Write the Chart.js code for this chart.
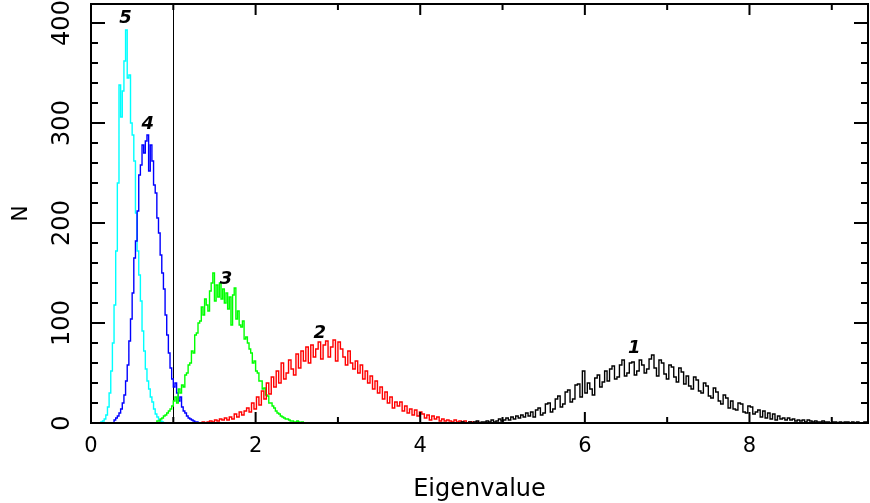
<!DOCTYPE html>
<html>
<head>
<meta charset="utf-8">
<script src="https://cdn.jsdelivr.net/npm/chart.js@4.4.1/dist/chart.umd.min.js"></script>
<style>
html,body{margin:0;padding:0;background:#fff}
</style>
</head>
<body>
<canvas id="myChart" width="870" height="503"></canvas>
<script>
// eigenvalue histograms, one per eigenvalue index (1 = largest)
const seriesNames = ['1', '2', '3', '4', '5'];
const seriesColors = ['#000000', '#ff0000', '#00ff00', '#0000ff', '#00ffff'];
const binStart = [4.50, 1.35, 0.80, 0.28, 0.12];
const binWidth = [0.03, 0.03, 0.02, 0.02, 0.02];

const counts1 = [
  0,1,0,0,1,0,1,2,0,1,
  1,2,1,3,1,2,4,2,3,5,
  3,6,4,7,5,8,6,10,7,11,
  6,13,15,8,10,19,20,11,14,24,
  27,16,19,31,33,21,24,38,39,26,
  52,30,40,34,28,45,48,36,41,52,
  42,54,57,44,46,58,63,47,50,60,
  61,48,52,63,58,50,54,64,68,55,
  47,63,60,49,44,58,56,46,41,55,
  51,39,47,37,34,46,43,32,30,40,
  37,27,25,35,31,22,19,28,25,15,
  22,14,13,20,19,11,10,17,16,9,
  11,13,6,12,5,10,4,9,3,7,
  4,5,3,5,3,4,2,3,2,3,
  1,3,2,1,2,1,1,2,1,1,
  0,1,1,0,1,0,1,1,0,1,
  0,1,0,0,1,0
];
const counts2 = [
  0,1,0,1,2,1,3,2,4,3,
  5,3,6,4,9,6,11,8,12,15,
  11,20,14,26,18,32,24,40,29,46,
  36,52,40,60,44,50,63,54,48,69,
  55,72,62,76,60,78,66,74,81,64,
  78,82,66,76,83,62,81,74,66,58,
  72,60,54,62,50,58,44,52,40,47,
  34,42,30,36,24,31,20,26,15,21,
  17,21,12,17,10,14,8,13,7,11,
  9,5,8,3,7,4,6,2,4,2,
  3,2,1,3,1,2,1,2,0,1,
  1,0,1,0,0
];
const counts3 = [
  1,2,2,4,5,7,8,10,12,14,
  17,22,26,20,34,30,38,36,48,50,
  58,60,72,70,88,90,100,102,116,108,
  124,118,112,132,140,150,122,138,126,140,
  124,134,120,130,114,126,98,128,135,104,
  112,98,96,102,84,86,80,74,70,60,
  62,52,50,42,42,34,35,28,27,20,
  20,17,15,12,10,9,7,6,5,4,
  4,3,2,2,1,1,2,1,0,1,
  0
];
const counts4 = [
  1,3,5,7,10,14,20,28,42,58,
  82,104,130,165,182,212,248,258,278,270,
  282,288,252,278,262,238,230,205,190,168,
  150,134,108,88,70,55,44,36,40,30,
  22,26,16,12,10,7,5,4,3,2,
  1,1,0
];
const counts5 = [
  0,1,2,4,8,16,30,52,80,118,
  172,240,338,306,332,362,393,345,348,300,
  288,262,210,172,148,122,92,72,54,42,
  34,26,21,14,9,6,3,2,1,0
];
const allCounts = [counts1, counts2, counts3, counts4, counts5];

// curve labels (data coordinates)
const labelX = [6.60, 2.78, 1.64, 0.69, 0.42];
const labelY = [75, 90, 144, 299, 405];

const xTicks = [0, 2, 4, 6, 8];
const yTicks = [0, 100, 200, 300, 400];
const cutLine = 1;

const datasets = allCounts.map((c, k) => ({
  label: seriesNames[k],
  data: c.map((v, i) => ({x: binStart[k] + i * binWidth[k], y: v})),
  borderColor: seriesColors[k],
  borderWidth: 1.4,
  pointRadius: 0,
  fill: false,
  stepped: 'after',
  tension: 0
}));

const framePlugin = {
  id: 'frame',
  beforeDatasetsDraw(chart) {
    const ctx = chart.ctx, a = chart.chartArea, xs = chart.scales.x;
    const px = Math.round(xs.getPixelForValue(cutLine)) + 0.5;
    ctx.save();
    ctx.strokeStyle = '#000';
    ctx.lineWidth = 1;
    ctx.beginPath();
    ctx.moveTo(px, a.top);
    ctx.lineTo(px, a.bottom);
    ctx.stroke();
    ctx.restore();
  },
  afterDraw(chart) {
    const ctx = chart.ctx, a = chart.chartArea;
    const xs = chart.scales.x, ys = chart.scales.y;
    ctx.save();
    ctx.strokeStyle = '#000';
    ctx.lineWidth = 2;
    ctx.strokeRect(a.left, a.top, a.right - a.left, a.bottom - a.top);
    ctx.beginPath();
    for (let v = 1; v <= 9; v++) {
      const p = xs.getPixelForValue(v);
      const len = v % 2 === 0 ? 11 : 6;
      ctx.moveTo(p, a.bottom); ctx.lineTo(p, a.bottom - len);
      ctx.moveTo(p, a.top); ctx.lineTo(p, a.top + len);
    }
    for (let n = 20; n <= 400; n += 20) {
      const p = ys.getPixelForValue(n);
      const len = n % 100 === 0 ? 14 : 7;
      ctx.moveTo(a.left, p); ctx.lineTo(a.left + len, p);
      ctx.moveTo(a.right, p); ctx.lineTo(a.right - len, p);
    }
    ctx.stroke();
    ctx.fillStyle = '#000';
    ctx.font = 'italic bold 18px "DejaVu Sans"';
    ctx.textAlign = 'center';
    ctx.textBaseline = 'middle';
    seriesNames.forEach((s, k) => {
      ctx.fillText(s, xs.getPixelForValue(labelX[k]), ys.getPixelForValue(labelY[k]));
    });
    ctx.restore();
  }
};

function noPad(s) {
  s.paddingTop = 0; s.paddingBottom = 0; s.paddingLeft = 0; s.paddingRight = 0;
}

new Chart(document.getElementById('myChart').getContext('2d'), {
  type: 'line',
  data: {datasets: datasets},
  options: {
    responsive: false,
    animation: false,
    layout: {padding: {top: 4, right: 2, left: 0, bottom: 0}},
    plugins: {legend: {display: false}, tooltip: {enabled: false}},
    scales: {
      x: {
        type: 'linear',
        min: 0,
        max: 9.44,
        grid: {display: false, drawTicks: false},
        border: {display: false},
        afterFit(s) { s.height = 80; noPad(s); },
        afterBuildTicks(s) { s.ticks = xTicks.map(v => ({value: v})); },
        ticks: {
          color: '#000',
          padding: 11,
          font: {family: 'DejaVu Sans', size: 21},
          maxRotation: 0
        },
        title: {
          display: true,
          text: 'Eigenvalue',
          color: '#000',
          font: {family: 'DejaVu Sans', size: 24},
          padding: {top: 0, bottom: -1}
        }
      },
      y: {
        min: 0,
        max: 419,
        grid: {display: false, drawTicks: false},
        border: {display: false},
        afterFit(s) { s.width = 91; noPad(s); },
        afterBuildTicks(s) { s.ticks = yTicks.map(v => ({value: v})); },
        ticks: {
          color: '#000',
          padding: 5,
          minRotation: 90,
          maxRotation: 90,
          crossAlign: 'center',
          font: {family: 'DejaVu Sans', size: 24}
        },
        title: {
          display: true,
          text: 'N',
          color: '#000',
          font: {family: 'DejaVu Sans', size: 22},
          padding: {top: 8, bottom: 0}
        }
      }
    }
  },
  plugins: [framePlugin]
});
</script>
</body>
</html>
